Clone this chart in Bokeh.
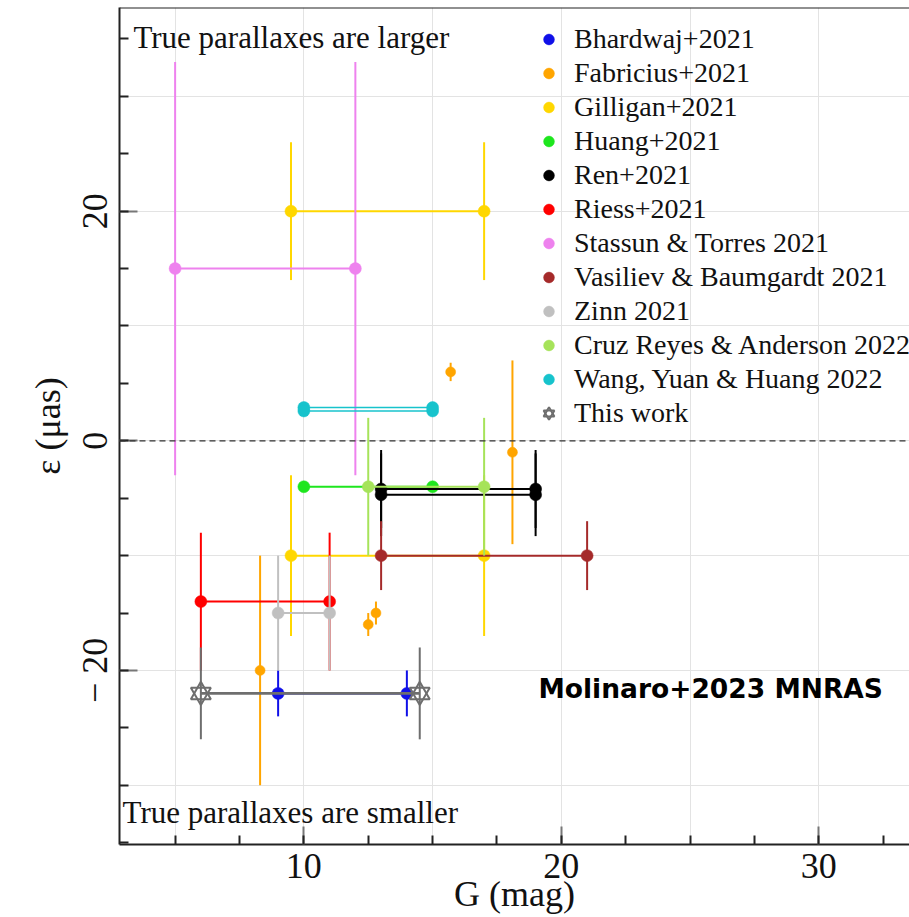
from bokeh.plotting import figure
from bokeh.models import Range1d, SingleIntervalTicker, Span, Label, Legend, LegendItem
from bokeh.embed import file_html
from bokeh.resources import INLINE

# Parallax zero-point offset epsilon (uas) vs Gaia G magnitude, with 1-sigma errors.
# Studies quoting a magnitude range are drawn as the two range ends joined by a line.
bhardwaj_g = [9.0, 14.0]
bhardwaj_eps = [-22.0, -22.0]
bhardwaj_err = [2.0, 2.0]

fabricius_g = [8.3, 12.5, 12.8, 15.7, 18.1]
fabricius_eps = [-20.0, -16.0, -15.0, 6.0, -1.0]
fabricius_err = [10.0, 1.0, 1.0, 0.8, 8.0]

gilligan_g = [9.5, 17.0]
gilligan_eps_hi = [20.0, 20.0]
gilligan_err_hi = [6.0, 6.0]
gilligan_eps_lo = [-10.0, -10.0]
gilligan_err_lo = [7.0, 7.0]

huang_g = [10.0, 15.0]
huang_eps = [-4.0, -4.0]
huang_err = [0.4, 0.4]

ren_g = [13.0, 19.0]
ren_eps_a = [-4.2, -4.2]
ren_err_a = [3.4, 3.4]
ren_eps_b = [-4.7, -4.7]
ren_err_b = [3.6, 3.6]

riess_g = [6.0, 11.0]
riess_eps = [-14.0, -14.0]
riess_err = [6.0, 6.0]

stassun_g = [5.0, 12.0]
stassun_eps = [15.0, 15.0]
stassun_err = [18.0, 18.0]

vasiliev_g = [13.0, 21.0]
vasiliev_eps = [-10.0, -10.0]
vasiliev_err = [3.0, 3.0]

zinn_g = [9.0, 11.0]
zinn_eps = [-15.0, -15.0]
zinn_err = [5.0, 5.0]

cruz_g = [12.5, 17.0]
cruz_eps = [-4.0, -4.0]
cruz_err = [6.0, 6.0]

wang_g = [10.0, 15.0]
wang_eps_a = [2.9, 2.9]
wang_eps_b = [2.6, 2.6]
wang_err = [0.2, 0.2]

this_g = [6.0, 14.5]
this_eps = [-22.0, -22.0]
this_err = [4.0, 4.0]

x_ticks = [10, 20, 30]
x_tick_labels = ["10", "20", "30"]
y_ticks = [-20, 0, 20]
y_tick_labels = ["\u2212 20", "0", "20"]

SERIF = "Liberation Serif"

p = figure(width=909, height=917,
           x_range=Range1d(2.84, 33.52), y_range=Range1d(-35.16, 37.74),
           output_backend="svg", toolbar_location=None,
           min_border_left=119, min_border_right=0,
           min_border_top=7, min_border_bottom=73)
p.outline_line_color = None
p.background_fill_color = "white"
p.border_fill_color = "white"

# axes
xa = p.xaxis[0]
xa.ticker = SingleIntervalTicker(interval=10, num_minor_ticks=4)
xa.major_label_overrides = {t: s for t, s in zip(x_ticks, x_tick_labels)}
xa.major_label_standoff = 9
xa.axis_label = "G (mag)"
xa.axis_label_standoff = -7
ya = p.yaxis[0]
ya.ticker = SingleIntervalTicker(interval=20, num_minor_ticks=4)
ya.major_label_overrides = {t: s for t, s in zip(y_ticks, y_tick_labels)}
ya.major_label_orientation = "vertical"
ya.major_label_standoff = 4
ya.axis_label = "\u03b5 (\u03bcas)"
ya.axis_label_standoff = 5
for ax in (xa, ya):
    ax.axis_line_width = 2
    ax.axis_line_color = "#222222"
    ax.major_tick_in = 18
    ax.major_tick_out = 0
    ax.minor_tick_in = 9
    ax.minor_tick_out = 0
    ax.major_tick_line_color = "#777777"
    ax.major_tick_line_width = 2
    ax.minor_tick_line_color = "#222222"
    ax.minor_tick_line_width = 2
    ax.major_label_text_font = SERIF
    ax.major_label_text_font_size = "36px"
    ax.major_label_text_color = "#111111"
    ax.axis_label_text_font = SERIF
    ax.axis_label_text_font_size = "36px"
    ax.axis_label_text_font_style = "normal"
    ax.axis_label_text_color = "#111111"

p.xgrid.ticker = SingleIntervalTicker(interval=5)
p.ygrid.ticker = SingleIntervalTicker(interval=10)
p.xgrid.grid_line_color = "#e3e3e3"
p.ygrid.grid_line_color = "#e3e3e3"

# frame top edge and the epsilon = 0 reference
p.add_layout(Span(location=p.y_range.end, dimension="width",
                  line_color="#222222", line_width=2))
p.add_layout(Span(location=0, dimension="width", line_color="#333333",
                  line_width=1.3, line_dash="6 4"))


def study(g, eps, err, color, connect=True, size=12, lw=2):
    lo = [e - s for e, s in zip(eps, err)]
    hi = [e + s for e, s in zip(eps, err)]
    p.segment(x0=g, y0=lo, x1=g, y1=hi, line_color=color, line_width=lw)
    if connect:
        p.line(g, eps, line_color=color, line_width=lw)
    return p.scatter(g, eps, marker="circle", size=size,
                     fill_color=color, line_color=color, line_width=0.5)


items = []
r = study(bhardwaj_g, bhardwaj_eps, bhardwaj_err, "#1010e8")
items.append(("Bhardwaj+2021", [r]))
r = study(fabricius_g, fabricius_eps, fabricius_err, "#ffa500", connect=False, size=10)
items.append(("Fabricius+2021", [r]))
r = study(gilligan_g, gilligan_eps_hi, gilligan_err_hi, "#ffd700")
study(gilligan_g, gilligan_eps_lo, gilligan_err_lo, "#ffd700")
items.append(("Gilligan+2021", [r]))
r = study(huang_g, huang_eps, huang_err, "#1ee61e")
items.append(("Huang+2021", [r]))
r = study(ren_g, ren_eps_a, ren_err_a, "#000000")
study(ren_g, ren_eps_b, ren_err_b, "#000000")
items.append(("Ren+2021", [r]))
r = study(riess_g, riess_eps, riess_err, "#ff0000")
items.append(("Riess+2021", [r]))
r = study(stassun_g, stassun_eps, stassun_err, "#ee82ee")
items.append(("Stassun & Torres 2021", [r]))
r = study(vasiliev_g, vasiliev_eps, vasiliev_err, "#a52a2a")
items.append(("Vasiliev & Baumgardt 2021", [r]))
r = study(zinn_g, zinn_eps, zinn_err, "#c0c0c0")
items.append(("Zinn 2021", [r]))
r = study(cruz_g, cruz_eps, cruz_err, "#a6e35a")
items.append(("Cruz Reyes & Anderson 2022", [r]))
r = study(wang_g, wang_eps_a, wang_err, "#17c3cc", lw=1.6)
study(wang_g, wang_eps_b, wang_err, "#17c3cc", lw=1.6)
items.append(("Wang, Yuan & Huang 2022", [r]))

# this work: hexagram markers built from two open triangles
GRAY = "#6e6e6e"
lo = [e - s for e, s in zip(this_eps, this_err)]
hi = [e + s for e, s in zip(this_eps, this_err)]
p.segment(x0=this_g, y0=lo, x1=this_g, y1=hi, line_color=GRAY, line_width=2)
p.line(this_g, this_eps, line_color=GRAY, line_width=2.6)
t1 = p.scatter(this_g, this_eps, marker="triangle", size=20, fill_color=None,
               line_color=GRAY, line_width=2)
t2 = p.scatter(this_g, this_eps, marker="inverted_triangle", size=20, fill_color=None,
               line_color=GRAY, line_width=2)
items.append(("This work", [t1, t2]))

# location gives the legend's lower-left corner, in pixels from the frame's lower-left
legend = Legend(items=[LegendItem(label=l, renderers=rs) for l, rs in items],
                location=(416, 414), margin=0, padding=0, spacing=0,
                glyph_width=27, glyph_height=34, label_height=34, label_standoff=12,
                label_text_font=SERIF, label_text_font_size="28px",
                label_text_color="#111111",
                border_line_color=None, background_fill_alpha=0)
p.add_layout(legend)

# annotations
p.add_layout(Label(x=3.38, y=35.17, text="True parallaxes are larger",
                   text_font=SERIF, text_font_size="31px", text_color="#111111",
                   text_baseline="alphabetic"))
p.add_layout(Label(x=2.96, y=-32.33, text="True parallaxes are smaller",
                   text_font=SERIF, text_font_size="31px", text_color="#111111",
                   text_baseline="alphabetic"))
p.add_layout(Label(x=19.11, y=-21.6, text="Molinaro+2023 MNRAS",
                   text_font="DejaVu Sans", text_font_style="bold",
                   text_font_size="26.5px", text_color="#000000",
                   text_baseline="alphabetic"))

open("out.html", "w").write(file_html(p, INLINE))
